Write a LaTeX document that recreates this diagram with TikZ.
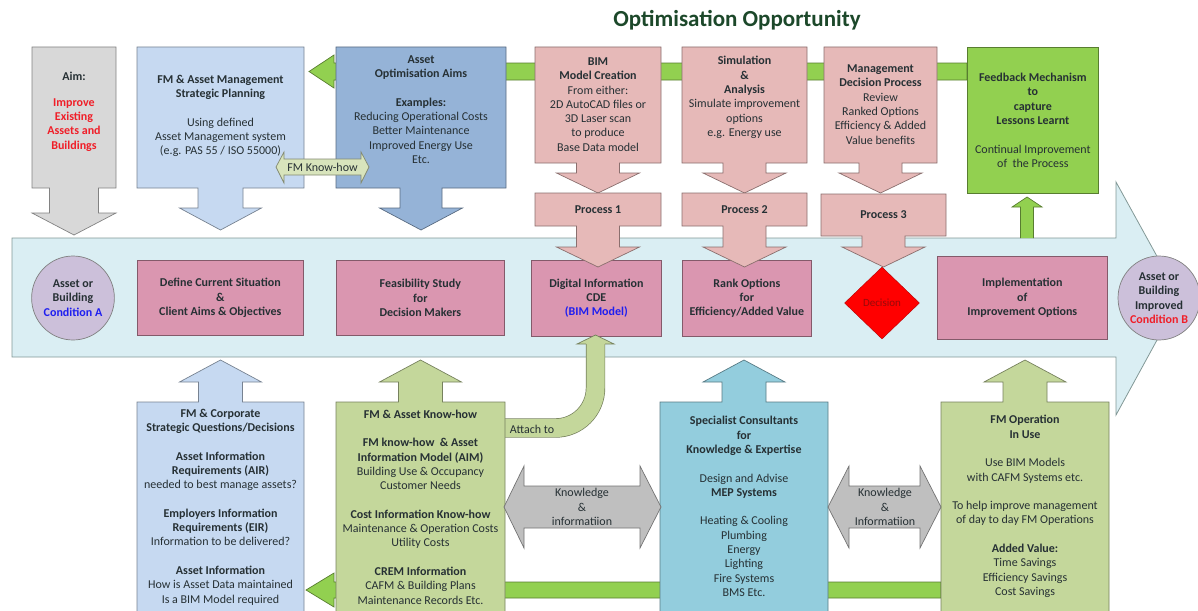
\documentclass[tikz,border=0pt]{standalone}
\usepackage{fontspec}
\setmainfont{Carlito}
\usepackage{tikz}
\usetikzlibrary{shapes.geometric,calc}
\definecolor{txtdark}{RGB}{38,48,52}
\definecolor{titlegreen}{RGB}{28,72,42}
\definecolor{aimgray}{RGB}{216,216,216}
\definecolor{paleblue}{RGB}{198,217,241}
\definecolor{steelblue}{RGB}{149,179,215}
\definecolor{procpink}{RGB}{230,185,184}
\definecolor{rosebox}{RGB}{218,150,176}
\definecolor{limegreen}{RGB}{146,208,80}
\definecolor{sagegreen}{RGB}{196,215,155}
\definecolor{palesage}{RGB}{216,228,188}
\definecolor{tealblue}{RGB}{147,205,221}
\definecolor{flowblue}{RGB}{218,238,243}
\definecolor{flowedge}{RGB}{130,152,150}
\definecolor{lavender}{RGB}{204,192,218}
\definecolor{knowgray}{RGB}{191,191,191}
\definecolor{condblue}{RGB}{30,30,240}
\definecolor{condred}{RGB}{240,30,40}
\definecolor{decred}{RGB}{255,0,0}
\definecolor{dectext}{RGB}{150,10,10}

\tikzset{
  lbl/.style={align=center, text=txtdark, font=\fontsize{12}{14.3}\selectfont, inner sep=0pt},
  block/.style={draw=#1!60!black, fill=#1, line width=0.7pt},
  stage/.style={lbl, block=#1, anchor=north west, font=\fontsize{12}{14.3}\selectfont\bfseries},
  cond/.style={lbl, ellipse, draw=black!50, fill=lavender, line width=0.7pt,
    minimum width=80pt, minimum height=84pt, font=\fontsize{12}{14.3}\selectfont\bfseries},
}

\begin{document}
\begin{tikzpicture}[x=1pt, y=-1pt]
  \useasboundingbox (0,0) rectangle (1198,610);
  \clip (0,0) rectangle (1198,610);

  % green feedback bars, behind everything
  \filldraw[block=limegreen] (967,63) -- (334,63) -- (334,55) -- (309,71.5) -- (334,88) -- (334,80) -- (967,80) -- cycle;
  \filldraw[block=limegreen] (941,582) -- (334,582) -- (334,573) -- (306,590) -- (334,607) -- (334,598) -- (941,598) -- cycle;

  % main process arrow
  \filldraw[fill=flowblue, draw=flowedge, line width=0.8pt]
    (12,238) -- (1116,238) -- (1116,182) -- (1180,298) -- (1116,415) -- (1116,357) -- (12,357) -- cycle;

  % top row: boxes with arrows pointing down
  \foreach \xa/\xb/\ya/\yb/\hb/\tp/\sh/\hh/\col in {
      32/116/47/188/213/235/24.5/42/aimgray,
      137/304/47/188/208/230/22.5/41/paleblue,
      336/506/47/188/208/230/21/41.5/steelblue,
      535/661/47/163/173/193/21.5/41.5/procpink,
      682/807/47/163/173/193/21.5/41.5/procpink,
      824/937/47/163/173/193/21.5/41.5/procpink}{
    \pgfmathsetmacro{\cx}{(\xa+\xb)/2}
    \filldraw[block=\col] (\xa,\ya) -- (\xb,\ya) -- (\xb,\yb) -- (\cx+\sh,\yb) -- (\cx+\sh,\hb) -- (\cx+\hh,\hb)
      -- (\cx,\tp) -- (\cx-\hh,\hb) -- (\cx-\sh,\hb) -- (\cx-\sh,\yb) -- (\xa,\yb) -- cycle;
  }

  % feedback box and its small arrow
  \node[stage=limegreen, minimum width=131pt, minimum height=146pt] (fb) at (967,47) {};
  \filldraw[block=limegreen] (1020.5,238) -- (1020.5,207) -- (1012,207) -- (1027,197) -- (1042,207) -- (1033.5,207) -- (1033.5,238);

  % stages inside the main arrow
  \node[cond] (conda) at (73,298) {Asset or\\Building\\\textcolor{condblue}{Condition A}};
  \node[stage=rosebox, minimum width=166pt, minimum height=75pt] (define) at (137,260)
    {Define Current Situation\\\&\\Client Aims \& Objectives};
  \node[stage=rosebox, minimum width=168pt, minimum height=75pt] (feas) at (336,260)
    {Feasibility Study\\for\\Decision Makers};
  \node[stage=rosebox, minimum width=130pt, minimum height=76pt] (digital) at (531,260)
    {Digital Information\\CDE\\\textcolor{condblue}{(BIM Model)}};
  \node[stage=rosebox, minimum width=129pt, minimum height=76pt] (rank) at (682,260)
    {Rank Options\\for\\Efficiency/Added Value};
  \node[stage=rosebox, minimum width=170pt, minimum height=83pt] (impl) at (937,256)
    {Implementation\\of\\Improvement Options};
  \node[cond, minimum width=78pt] (condb) at (1159,298)
    {Asset or\\Building\\Improved\\\textcolor{condred}{Condition B}};

  % process boxes with arrows into the stages
  \foreach \xa/\xb/\ya/\yb/\hb/\tp/\sh/\hh/\col in {
      535/661/193/226/247/267/21.5/41.5/procpink,
      682/807/193/226/247/267/21.5/41.5/procpink,
      821/946/194/236/247/267/21.5/41.5/procpink}{
    \pgfmathsetmacro{\cx}{(\xa+\xb)/2}
    \filldraw[block=\col] (\xa,\ya) -- (\xb,\ya) -- (\xb,\yb) -- (\cx+\sh,\yb) -- (\cx+\sh,\hb) -- (\cx+\hh,\hb)
      -- (\cx,\tp) -- (\cx-\hh,\hb) -- (\cx-\sh,\hb) -- (\cx-\sh,\yb) -- (\xa,\yb) -- cycle;
  }
  \node[lbl, diamond, draw=decred!70!black, fill=decred, minimum width=75pt, minimum height=72pt,
    text=dectext, font=\fontsize{11}{13}\selectfont] (dec) at (882,303) {Decision};

  % attach to band
  \draw[draw=sagegreen!60!black, line width=0.7pt, double=sagegreen, double distance=18pt]
    (503,428) -- (555.5,428) .. controls (577.6,428) and (595.5,410.1) .. (595.5,388) -- (595.5,344);
  \filldraw[block=sagegreen] (586,344) -- (577,344) -- (595.5,335) -- (614,344) -- (605,344);

  % bottom row: boxes with arrows pointing up
  \foreach \xa/\xb/\ya/\yb/\hb/\tp/\sh/\hh/\col in {
      137/304/615/402/382/360/22/41/paleblue,
      336/505/615/402/382/360/22/41/sagegreen,
      660/828/615/402/382/360/22/41/tealblue,
      941/1109/615/402/382/360/22/41/sagegreen}{
    \pgfmathsetmacro{\cx}{(\xa+\xb)/2}
    \filldraw[block=\col] (\xa,\ya) -- (\xb,\ya) -- (\xb,\yb) -- (\cx+\sh,\yb) -- (\cx+\sh,\hb) -- (\cx+\hh,\hb)
      -- (\cx,\tp) -- (\cx-\hh,\hb) -- (\cx-\sh,\hb) -- (\cx-\sh,\yb) -- (\xa,\yb) -- cycle;
  }

  % two-way arrows
  \filldraw[block=palesage] (276,167) -- (284,152) -- (284,159) -- (361,159) -- (361,152) -- (369,167)
    -- (361,183) -- (361,175) -- (284,175) -- (284,183) -- cycle;
  \foreach \xa/\xb/\xc/\xd in {504/524/640/661, 828/849/920/941}{
    \filldraw[block=knowgray] (\xa,507) -- (\xb,466) -- (\xb,486) -- (\xc,486) -- (\xc,466) -- (\xd,507)
      -- (\xc,548) -- (\xc,528) -- (\xb,528) -- (\xb,548) -- cycle;
  }

  % texts
  \node[lbl, font=\fontsize{23}{26}\selectfont\bfseries, text=titlegreen] (title) at (737,20) {Optimisation Opportunity};
  \node[lbl] (aimtxt) at (74,111.5) {\textbf{Aim:}\\[11.7pt]\textcolor{condred}{\textbf{Improve}}\\
    \textcolor{condred}{\textbf{Existing}}\\\textcolor{condred}{\textbf{Assets and}}\\\textcolor{condred}{\textbf{Buildings}}};
  \node[lbl] (fmamtxt) at (220.5,116) {\textbf{FM \& Asset Management}\\\textbf{Strategic Planning}\\[14.3pt]
    Using defined\\Asset Management system\\(e.g. PAS 55 / ISO 55000)};
  \node[lbl] (optimtxt) at (421,109.5) {\textbf{Asset}\\\textbf{Optimisation Aims}\\[14.3pt]\textbf{Examples:}\\
    Reducing Operational Costs\\Better Maintenance\\Improved Energy Use\\Etc.};
  \node[lbl] (bimtxt) at (598,104.5) {\textbf{BIM}\\\textbf{Model Creation}\\From either:\\2D AutoCAD files or\\
    3D Laser scan\\to produce\\Base Data model};
  \node[lbl] (simtxt) at (744.5,97.5) {\textbf{Simulation}\\\textbf{\&}\\\textbf{Analysis}\\Simulate improvement\\
    options\\e.g. Energy use};
  \node[lbl] (mgmttxt) at (880.5,104.5) {\textbf{Management}\\\textbf{Decision Process}\\Review\\Ranked Options\\
    Efficiency \& Added\\Value benefits};
  \node[lbl] (fbtxt) at (fb.center) {\textbf{Feedback Mechanism}\\\textbf{to}\\\textbf{capture}\\\textbf{Lessons Learnt}\\[14.3pt]
    Continual Improvement\\of~ the Process};
  \node[lbl, font=\fontsize{12}{14.3}\selectfont\bfseries] (proc1) at (598,209.5) {Process 1};
  \node[lbl, font=\fontsize{12}{14.3}\selectfont\bfseries] (proc2) at (744.5,209.5) {Process 2};
  \node[lbl, font=\fontsize{12}{14.3}\selectfont\bfseries] (proc3) at (883.5,215) {Process 3};
  \node[lbl] (fmknow) at (322.5,167) {FM Know-how};
  \node[lbl] (attach) at (532,429) {Attach to};
  \node[lbl] (know1) at (582,507) {Knowledge\\\&\\informatiion};
  \node[lbl] (know2) at (885,507) {Knowledge\\\&\\Informatiion};
  \node[lbl] (corptxt) at (220.5,507) {\textbf{FM \& Corporate}\\\textbf{Strategic Questions/Decisions}\\[14.3pt]
    \textbf{Asset Information}\\\textbf{Requirements (AIR)}\\needed to best manage assets?\\[14.3pt]
    \textbf{Employers Information}\\\textbf{Requirements (EIR)}\\Information to be delivered?\\[14.3pt]
    \textbf{Asset Information}\\How is Asset Data maintained\\Is a BIM Model required};
  \node[lbl] (akhtxt) at (420.5,507) {\textbf{FM \& Asset Know-how}\\[14.3pt]
    \textbf{FM know-how~ \& Asset}\\\textbf{Information Model (AIM)}\\Building Use \& Occupancy\\Customer Needs\\[14.3pt]
    \textbf{Cost Information Know-how}\\Maintenance \& Operation Costs\\Utility Costs\\[14.3pt]
    \textbf{CREM Information}\\CAFM \& Building Plans\\Maintenance Records Etc.};
  \node[lbl] (spectxt) at (744,506.5) {\textbf{Specialist Consultants}\\\textbf{for}\\\textbf{Knowledge \& Expertise}\\[14.3pt]
    Design and Advise\\\textbf{MEP Systems}\\[14.3pt]
    Heating \& Cooling\\Plumbing\\Energy\\Lighting\\Fire Systems\\BMS Etc.};
  \node[lbl] (fmoptxt) at (1025,506.5) {\textbf{FM Operation}\\\textbf{In Use}\\[14.3pt]
    Use BIM Models\\with CAFM Systems etc.\\[14.3pt]
    To help improve management\\of day to day FM Operations\\[14.3pt]
    \textbf{Added Value:}\\Time Savings\\Efficiency Savings\\Cost Savings};
\end{tikzpicture}
\end{document}
